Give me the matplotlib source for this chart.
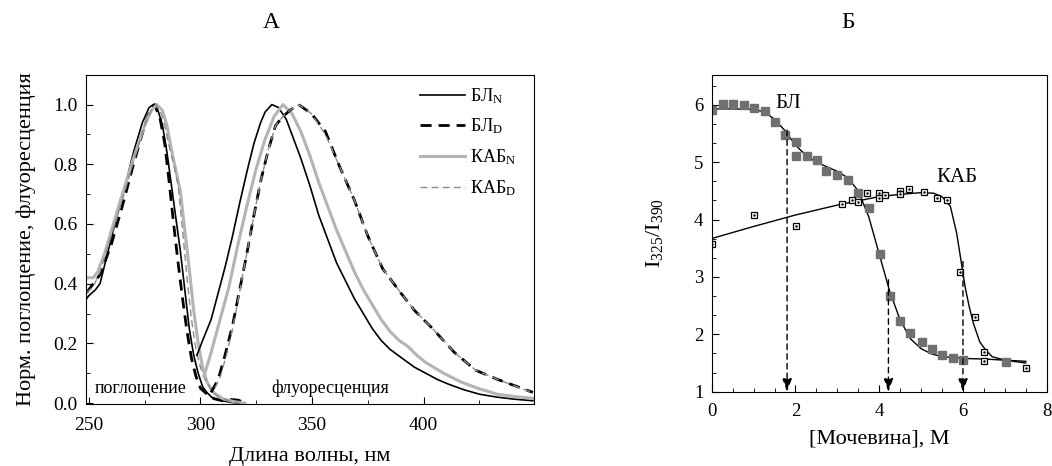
import matplotlib
matplotlib.use("Agg")
import matplotlib.pyplot as plt
from matplotlib.ticker import MultipleLocator

plt.rcParams['font.family'] = ['Liberation Serif', 'DejaVu Serif']
plt.rcParams['mathtext.fontset'] = 'custom'
plt.rcParams['mathtext.rm'] = 'Liberation Serif'
plt.rcParams['mathtext.it'] = 'Liberation Serif'

# -------------------------------------------------------
# Панель А: спектры поглощения и флуоресценции
# -------------------------------------------------------
abs_bl_n_x = [249, 250, 253, 255, 258, 262, 266, 270, 274, 277, 279, 281, 283, 285,
              287, 289, 291, 293, 295, 297, 299, 301, 303, 305, 308, 312, 316, 320]
abs_bl_n_y = [0.35, 0.36, 0.38, 0.40, 0.49, 0.61, 0.72, 0.84, 0.94, 0.99, 1.0, 0.98, 0.93, 0.84,
              0.73, 0.62, 0.51, 0.38, 0.25, 0.16, 0.10, 0.055, 0.035, 0.02, 0.01, 0.005, 0.0, 0.0]

abs_bl_d_x = [249, 250, 255, 260, 265, 270, 275, 278, 279.5, 282, 284, 286, 288, 290,
              292, 294, 296, 298, 300, 303, 306, 310, 314, 317, 320]
abs_bl_d_y = [0.37, 0.38, 0.43, 0.53, 0.66, 0.80, 0.93, 0.99, 1.0, 0.95, 0.87, 0.74, 0.60, 0.47,
              0.35, 0.24, 0.15, 0.09, 0.05, 0.03, 0.015, 0.008, 0.012, 0.01, 0.0]

abs_kab_n_x = [249, 252, 254, 257, 261, 265, 270, 275, 278, 280.5, 283, 285, 287, 289,
               291, 293, 295, 297, 299, 301, 303, 306, 310, 315, 320]
abs_kab_n_y = [0.42, 0.42, 0.44, 0.50, 0.60, 0.70, 0.82, 0.93, 0.98, 1.0, 0.98, 0.93, 0.85, 0.78,
               0.71, 0.58, 0.45, 0.31, 0.20, 0.12, 0.07, 0.035, 0.015, 0.005, 0.0]

abs_kab_d_x = [249, 252, 255, 260, 265, 270, 275, 278, 280, 282, 284, 286, 288, 290,
               292, 294, 296, 298, 300, 302, 305, 308, 312, 318]
abs_kab_d_y = [0.37, 0.39, 0.44, 0.56, 0.68, 0.81, 0.93, 0.98, 1.0, 0.98, 0.93, 0.86, 0.80, 0.73,
               0.58, 0.42, 0.28, 0.18, 0.12, 0.08, 0.04, 0.02, 0.01, 0.0]

fl_bl_n_x = [298.4, 301, 304.8, 308, 311.2, 314.4, 317.6, 321, 324, 327, 329, 332, 335, 338.5,
             342, 345, 349, 353, 357, 361, 365, 369, 373, 377, 381, 385, 391, 396, 401,
             406, 411, 418, 425, 433, 441, 449]
fl_bl_n_y = [0.16, 0.21, 0.28, 0.37, 0.46, 0.56, 0.67, 0.78, 0.87, 0.94, 0.975, 1.0, 0.99, 0.95,
             0.88, 0.82, 0.73, 0.63, 0.55, 0.47, 0.41, 0.35, 0.30, 0.25, 0.21, 0.18, 0.147, 0.12, 0.10,
             0.08, 0.064, 0.045, 0.03, 0.02, 0.013, 0.008]

fl_kab_n_x = [301.6, 304.8, 308.8, 312.8, 316.8, 320.8, 324.8, 328.8, 333, 337, 341, 345,
              349, 353, 357, 361, 365, 369, 373, 377, 381, 385, 389, 393, 397, 401, 409,
              417, 425, 433, 441, 449]
fl_kab_n_y = [0.09, 0.17, 0.28, 0.39, 0.53, 0.66, 0.78, 0.88, 0.96, 1.0, 0.97, 0.91,
              0.83, 0.74, 0.66, 0.58, 0.51, 0.44, 0.38, 0.33, 0.28, 0.24, 0.21, 0.19, 0.16, 0.136, 0.10,
              0.07, 0.048, 0.03, 0.022, 0.016]

fl_bl_d_x = [304.8, 308, 311, 314.4, 317.6, 320.8, 324, 327.2, 330.5, 333.7, 337, 340,
             344, 349.7, 356, 362.5, 369, 375, 381.7, 389.7, 396, 404, 413.8, 423.4,
             433, 441, 449]
fl_bl_d_y = [0.036, 0.08, 0.16, 0.26, 0.38, 0.50, 0.63, 0.75, 0.85, 0.93, 0.96, 0.98,
             1.0, 0.97, 0.91, 0.79, 0.68, 0.56, 0.45, 0.37, 0.31, 0.25, 0.17, 0.11,
             0.08, 0.058, 0.036]

fl_kab_d_x = [306.5, 309, 312, 315, 318, 321, 324, 327.2, 330.5, 333.7, 337, 340,
              344, 349.7, 356, 362.5, 369, 375, 381.7, 389.7, 396, 404, 413.8, 423.4,
              433, 441, 449]
fl_kab_d_y = [0.05, 0.09, 0.17, 0.27, 0.39, 0.51, 0.63, 0.75, 0.85, 0.93, 0.96, 0.98,
              1.0, 0.97, 0.90, 0.79, 0.68, 0.56, 0.45, 0.37, 0.31, 0.25, 0.17, 0.11,
              0.08, 0.057, 0.035]

# -------------------------------------------------------
# Панель Б: денатурация мочевиной
# -------------------------------------------------------
urea_bl = [0, 0.26, 0.52, 0.76, 1.02, 1.27, 1.51, 1.75, 2.01, 2.01, 2.27, 2.51, 2.74, 3.0,
           3.25, 3.5, 3.75, 4.02, 4.26, 4.49, 4.73, 5.01, 5.27, 5.51, 5.77, 6.0, 7.02]
ratio_bl = [5.91, 6.01, 6.01, 6.0, 5.95, 5.9, 5.70, 5.48, 5.36, 5.10, 5.10, 5.04, 4.85, 4.77,
            4.69, 4.46, 4.20, 3.40, 2.67, 2.23, 2.03, 1.86, 1.74, 1.64, 1.59, 1.56, 1.51]

urea_kab = [0, 1.01, 2.01, 3.10, 3.34, 3.50, 3.72, 4.0, 4.0, 4.15, 4.49, 4.49, 4.70, 5.06,
            5.37, 5.63, 5.93, 6.28, 6.50, 6.50, 7.50]
ratio_kab = [3.57, 4.08, 3.89, 4.27, 4.34, 4.30, 4.47, 4.47, 4.38, 4.43, 4.49, 4.44, 4.53, 4.48,
             4.37, 4.34, 3.09, 2.31, 1.70, 1.53, 1.41]

fit_bl_x = [0, 0.5, 1.0, 1.25, 1.5, 1.75, 2.0, 2.25, 2.5, 2.75, 3.0, 3.25, 3.5, 3.75,
            4.0, 4.25, 4.5, 4.75, 5.0, 5.25, 5.5, 6.0, 6.5, 7.0, 7.5]
fit_bl_y = [5.93, 5.93, 5.92, 5.88, 5.75, 5.55, 5.30, 5.12, 5.00, 4.92, 4.84, 4.73, 4.50, 4.05,
            3.40, 2.75, 2.25, 1.92, 1.75, 1.66, 1.61, 1.58, 1.57, 1.55, 1.53]

fit_kab_x = [0, 1.0, 2.0, 3.1, 4.0, 4.5, 5.0, 5.3, 5.5, 5.7, 5.85, 5.95, 6.05, 6.15,
             6.25, 6.4, 6.55, 6.7, 7.0, 7.5]
fit_kab_y = [3.67, 3.88, 4.08, 4.27, 4.40, 4.44, 4.47, 4.46, 4.40, 4.23, 3.76, 3.30, 2.83, 2.48,
             2.19, 1.87, 1.72, 1.61, 1.55, 1.50]

# середины переходов (стрелки) и начало стрелки
mid_x = [1.80, 4.22, 6.0]
mid_top = [5.56, 2.95, 3.27]

GRAY = "#b4b4b4"
GRAY_D = "#8c8c8c"

fig = plt.figure(figsize=(10.52, 4.66), dpi=100)
ax1 = fig.add_axes([0.0817, 0.133, 0.4259, 0.7067])
ax2 = fig.add_axes([0.6765, 0.1594, 0.3185, 0.6796])

# --- Панель А ---
ax1.plot(abs_bl_n_x, abs_bl_n_y, color="black", lw=1.2, label="БЛ$_\\mathrm{N}$")
ax1.plot(abs_bl_d_x, abs_bl_d_y, color="black", lw=2.0, ls=(0, (4, 2.5)), label="БЛ$_\\mathrm{D}$")
ax1.plot(abs_kab_n_x, abs_kab_n_y, color=GRAY, lw=2.2, label="КАБ$_\\mathrm{N}$")
ax1.plot(abs_kab_d_x, abs_kab_d_y, color=GRAY_D, lw=1.0, ls=(0, (5, 3)), label="КАБ$_\\mathrm{D}$")
ax1.plot(fl_bl_n_x, fl_bl_n_y, color="black", lw=1.2)
ax1.plot(fl_kab_n_x, fl_kab_n_y, color=GRAY, lw=2.2)
ax1.plot(fl_bl_d_x, fl_bl_d_y, color="black", lw=2.0, ls=(0, (4, 2.5)))
ax1.plot(fl_kab_d_x, fl_kab_d_y, color=GRAY_D, lw=1.0, ls=(0, (5, 3)))

ax1.set_xlim(248.7, 449.5)
ax1.set_ylim(-0.003, 1.1)
ax1.xaxis.set_major_locator(MultipleLocator(50))
ax1.xaxis.set_minor_locator(MultipleLocator(25))
ax1.yaxis.set_major_locator(MultipleLocator(0.2))
ax1.yaxis.set_minor_locator(MultipleLocator(0.1))
ax1.yaxis.set_major_formatter(plt.FuncFormatter(lambda v, p: f"{v:.1f}"))
ax1.tick_params(which="both", direction="in", labelsize=14)
ax1.tick_params(which="major", length=5, pad=6)
ax1.tick_params(axis="x", which="major", pad=9)
ax1.tick_params(which="minor", length=3)
ax1.set_xlabel("Длина волны, нм", fontsize=16, labelpad=10)
ax1.set_ylabel("Норм. поглощение, флуоресценция", fontsize=16)
ax1.yaxis.set_label_coords(-0.112, 0.5)
ax1.text(252.7, 0.035, "поглощение", fontsize=13)
ax1.text(331.8, 0.035, "флуоресценция", fontsize=13)
ax1.legend(loc="upper left", bbox_to_anchor=(0.745, 0.965), frameon=False, fontsize=13,
           handlelength=2.5, handletextpad=0.28, labelspacing=0.6, borderaxespad=0, borderpad=0)

# --- Панель Б ---
ax2.plot(fit_bl_x, fit_bl_y, color="black", lw=1.0)
ax2.plot(fit_kab_x, fit_kab_y, color="black", lw=1.0)
ax2.plot(urea_bl, ratio_bl, ls="none", marker="s", ms=5.3, color="#707070", mec="#707070")
ax2.plot(urea_kab, ratio_kab, ls="none", marker="s", ms=4.8, mfc="white", mec="black", mew=0.9)
ax2.plot(urea_kab, ratio_kab, ls="none", marker=".", ms=1.5, color="black")
for xm, yt in zip(mid_x, mid_top):
    ax2.annotate("", xy=(xm, 1.0), xytext=(xm, yt),
                 arrowprops=dict(arrowstyle="-|>,head_length=0.55,head_width=0.2",
                                 ls=(0, (4, 3)), color="black", lw=1.0,
                                 mutation_scale=14, shrinkA=0, shrinkB=0))

ax2.text(1.82, 6.03, "БЛ", fontsize=15, ha="center", va="center")
ax2.text(5.86, 4.73, "КАБ", fontsize=15, ha="center", va="center")
ax2.set_xlim(0, 8)
ax2.set_ylim(1, 6.52)
ax2.xaxis.set_major_locator(MultipleLocator(2))
ax2.xaxis.set_minor_locator(MultipleLocator(0.5))
ax2.yaxis.set_major_locator(MultipleLocator(1))
ax2.yaxis.set_minor_locator(MultipleLocator(1 / 3))
ax2.tick_params(which="both", direction="in", labelsize=13.5)
ax2.tick_params(which="major", length=5, pad=6)
ax2.tick_params(axis="x", which="major", pad=8)
ax2.tick_params(which="minor", length=3)
ax2.set_xlabel("[Мочевина], М", fontsize=16, labelpad=7)
ax2.set_ylabel("I$_\\mathrm{325}$/I$_\\mathrm{390}$", fontsize=16)
ax2.yaxis.set_label_coords(-0.14, 0.5)

fig.text(0.258, 0.951, "А", fontsize=17, ha="center", va="center")
fig.text(0.806, 0.951, "Б", fontsize=17, ha="center", va="center")

fig.savefig("out.png", dpi=100)
